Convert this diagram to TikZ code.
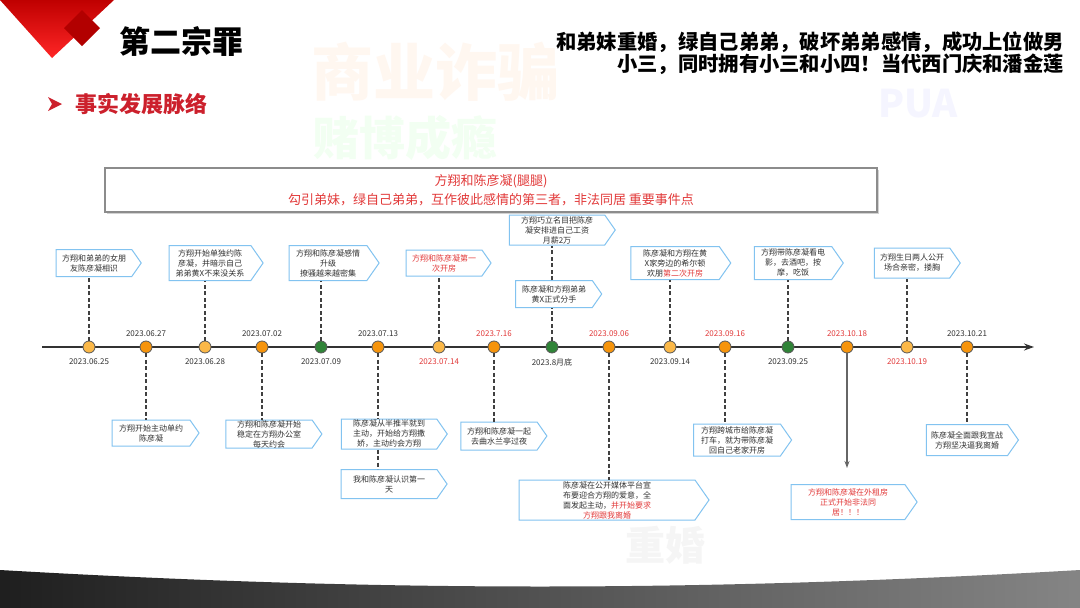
\documentclass[tikz,border=0pt]{standalone}
\usepackage{fontspec}
\setmainfont{Noto Sans CJK SC}
\usetikzlibrary{positioning,shapes.symbols,arrows.meta,shadows}

\definecolor{evred}{RGB}{226,58,58}
\definecolor{titlered}{RGB}{204,32,44}
\definecolor{boxblue}{RGB}{130,195,240}
\definecolor{dotlight}{RGB}{251,184,72}
\definecolor{dotdark}{RGB}{246,148,12}
\definecolor{dotgreen}{RGB}{48,132,56}
\definecolor{txtgray}{RGB}{50,50,50}

\begin{document}
\begin{tikzpicture}[
  x=1pt, y=-1pt,
  evbox/.style={shape=signal, signal to=east, signal pointer angle=110, draw=boxblue, line width=1pt,
    fill=white, inner sep=0pt, align=center, text=txtgray, font=\fontsize{8}{10}\selectfont},
  tdot/.style={circle, draw=black!65, line width=0.8pt, minimum size=12pt, inner sep=0pt},
  datelbl/.style={font=\fontsize{8}{9}\selectfont, text=txtgray, inner sep=0pt},
  link/.style={dash pattern=on 4pt off 2.5pt, line width=1.1pt, black!75},
  wmark/.style={inner sep=0pt, font=\bfseries},
  >=Stealth
]
\useasboundingbox (0,0) rectangle (1080,608);

% Slide decoration
\fill[white] (0,0) rectangle (1080,608);
\node[wmark, text=orange!6, font=\fontsize{62}{62}\selectfont\bfseries] (wm1) at (435,72) {商业诈骗};
\node[wmark, text=green!5, font=\fontsize{46}{46}\selectfont\bfseries] (wm2) at (405,138) {赌博成瘾};
\node[wmark, text=blue!4, font=\fontsize{38}{38}\selectfont\bfseries] (wm3) at (918,104) {PUA};
\node[wmark, text=black!4, font=\fontsize{40}{40}\selectfont\bfseries] (wm4) at (665,545) {重婚};
\shade[top color=red!75!black, bottom color=red!85!white] (0,0) -- (114,0) -- (52,58) -- cycle;
\fill[red!70!black] (82,10) -- (100,28) -- (82,46) -- (64,28) -- cycle;
\shade[left color=black!88, right color=black!48] (0,570) .. controls (380,592) and (700,592) .. (1080,570) -- (1080,608) -- (0,608) -- cycle;

% Headings
\node[font=\fontsize{31}{34}\selectfont\bfseries, inner sep=0pt] (title) at (181,42) {第二宗罪};
\fill[titlered] (48,97) -- (62,104) -- (48,111) -- (52,104) -- cycle;
\node[font=\fontsize{22}{24}\selectfont\bfseries, text=titlered, inner sep=0pt] (sub) at (141,104) {事实发展脉络};
\node[font=\fontsize{20.3}{22}\selectfont\bfseries, align=right, anchor=east, inner sep=0pt] (claim) at (1064,53)
  {和弟妹重婚，绿自己弟弟，破坏弟弟感情，成功上位做男\\小三，同时拥有小三和小四！当代西门庆和潘金莲};

% Banner
\node[draw=black!45, line width=1.2pt, fill=white, drop shadow={opacity=0.35, shadow xshift=1.5pt, shadow yshift=-1.5pt},
  minimum width=772pt, minimum height=44pt, align=center, text=evred, font=\fontsize{13}{19}\selectfont] (banner) at (491,190)
  {方翔和陈彦凝(腿腿)\\勾引弟妹，绿自己弟弟，互作彼此感情的第三者，非法同居 重要事件点};

% Timeline axis
\coordinate (tstart) at (42,347);
\coordinate (tend) at (1034,347);
\draw[line width=1.3pt, black!80, -{Stealth[length=10pt,width=7pt]}] (tstart) -- (tend);

% Time points
\node[tdot, fill=dotlight] (d1) at (89,347) {};
\node[tdot, fill=dotdark] (d2) at (146,347) {};
\node[tdot, fill=dotlight] (d3) at (205,347) {};
\node[tdot, fill=dotdark] (d4) at (262,347) {};
\node[tdot, fill=dotgreen] (d5) at (321,347) {};
\node[tdot, fill=dotdark] (d6) at (378,347) {};
\node[tdot, fill=dotlight] (d7) at (439,347) {};
\node[tdot, fill=dotdark] (d8) at (494,347) {};
\node[tdot, fill=dotgreen] (d9) at (552,347) {};
\node[tdot, fill=dotdark] (d10) at (609,347) {};
\node[tdot, fill=dotlight] (d11) at (670,347) {};
\node[tdot, fill=dotdark] (d12) at (725,347) {};
\node[tdot, fill=dotgreen] (d13) at (788,347) {};
\node[tdot, fill=dotdark] (d14) at (847,347) {};
\node[tdot, fill=dotlight] (d15) at (907,347) {};
\node[tdot, fill=dotdark] (d16) at (967,347) {};

% Dates
\node[datelbl, below=5pt of d1] {2023.06.25};
\node[datelbl, above=4pt of d2] {2023.06.27};
\node[datelbl, below=5pt of d3] {2023.06.28};
\node[datelbl, above=4pt of d4] {2023.07.02};
\node[datelbl, below=5pt of d5] {2023.07.09};
\node[datelbl, above=4pt of d6] {2023.07.13};
\node[datelbl, below=5pt of d7, text=evred] {2023.07.14};
\node[datelbl, above=4pt of d8, text=evred] {2023.7.16};
\node[datelbl, below=5pt of d9] {2023.8月底};
\node[datelbl, above=4pt of d10, text=evred] {2023.09.06};
\node[datelbl, below=5pt of d11] {2023.09.14};
\node[datelbl, above=4pt of d12, text=evred] {2023.09.16};
\node[datelbl, below=5pt of d13] {2023.09.25};
\node[datelbl, above=4pt of d14, text=evred] {2023.10.18};
\node[datelbl, below=5pt of d15, text=evred] {2023.10.19};
\node[datelbl, above=4pt of d16] {2023.10.21};

% Events above the axis
\node[evbox, minimum width=85pt, minimum height=27pt] (b1) at (94,263) {方翔和弟弟的女朋\\友陈彦凝相识};
\node[evbox, minimum width=94pt, minimum height=35pt] (b3) at (210,263) {方翔开始单独约陈\\彦凝，并暗示自己\\弟弟黄X不来没关系};
\node[evbox, minimum width=90pt, minimum height=35pt] (b5) at (328,263) {方翔和陈彦凝感情\\升级\\撩骚越来越密集};
\node[evbox, minimum width=85pt, minimum height=26pt, text=evred] (b7) at (444,263) {方翔和陈彦凝第一\\次开房};
\node[evbox, minimum width=86pt, minimum height=27pt] (b9a) at (554,294) {陈彦凝和方翔弟弟\\黄X正式分手};
\node[evbox, minimum width=106pt, minimum height=30pt] (b9b) at (557,230) {方翔巧立名目把陈彦\\凝安排进自己工资\\月薪2万};
\node[evbox, minimum width=100pt, minimum height=33pt] (b11) at (675,263) {陈彦凝和方翔在黄\\X家旁边的希尔顿\\欢朋\textcolor{evred}{第二次开房}};
\node[evbox, minimum width=89pt, minimum height=33pt] (b13) at (793,263) {方翔带陈彦凝看电\\影，去酒吧，按\\摩，吃饭};
\node[evbox, minimum width=86pt, minimum height=30pt] (b15) at (912,263) {方翔生日两人公开\\场合亲密，搂胸};

% Events below the axis
\node[evbox, minimum width=87pt, minimum height=26pt] (b2) at (151,433) {方翔开始主动单约\\陈彦凝};
\node[evbox, minimum width=96pt, minimum height=28pt] (b4) at (269,434) {方翔和陈彦凝开始\\稳定在方翔办公室\\每天约会};
\node[evbox, minimum width=106pt, minimum height=30pt] (b6a) at (389,434) {陈彦凝从半推半就到\\主动，开始给方翔撒\\娇，主动约会方翔};
\node[evbox, minimum width=106pt, minimum height=29pt] (b6b) at (389,484) {我和陈彦凝认识第一\\天};
\node[evbox, minimum width=86pt, minimum height=28pt] (b8) at (499,436) {方翔和陈彦凝一起\\去曲水兰亭过夜};
\node[evbox, minimum width=190pt, minimum height=40pt] (b10) at (607,500) {陈彦凝在公开媒体平台宣\\布要迎合方翔的爱意，全\\面发起主动，\textcolor{evred}{并开始要求}\\\textcolor{evred}{方翔跟我离婚}};
\node[evbox, minimum width=98pt, minimum height=32pt] (b12) at (737,440) {方翔跨城市给陈彦凝\\打车，就为带陈彦凝\\回自己老家开房};
\node[evbox, minimum width=126pt, minimum height=35pt, text=evred] (b14) at (848,502) {方翔和陈彦凝在外租房\\正式开始非法同\\居！！！};
\node[evbox, minimum width=92pt, minimum height=31pt] (b16) at (967,440) {陈彦凝全面跟我宣战\\方翔坚决逼我离婚};

% Links to events
\draw[link] (d1.north) -- (d1 |- b1.south);
\draw[link] (d3.north) -- (d3 |- b3.south);
\draw[link] (d5.north) -- (d5 |- b5.south);
\draw[link] (d7.north) -- (d7 |- b7.south);
\draw[link] (d9.north) -- (d9 |- b9a.south);
\draw[link] (b9a.north -| d9) -- (d9 |- b9b.south);
\draw[link] (d11.north) -- (d11 |- b11.south);
\draw[link] (d13.north) -- (d13 |- b13.south);
\draw[link] (d15.north) -- (d15 |- b15.south);
\draw[link] (d2.south) -- (d2 |- b2.north);
\draw[link] (d4.south) -- (d4 |- b4.north);
\draw[link] (d6.south) -- (d6 |- b6a.north);
\draw[link] (b6a.south -| d6) -- (d6 |- b6b.north);
\draw[link] (d8.south) -- (d8 |- b8.north);
\draw[link] (d10.south) -- (d10 |- b10.north);
\draw[link] (d12.south) -- (d12 |- b12.north);
\draw[link] (d16.south) -- (d16 |- b16.north);

% Cohabitation arrow
\coordinate (a14) at (847,468);
\draw[black!60, line width=1.1pt, -{Stealth[length=7pt,width=5pt]}] (d14.south) -- (a14);

\end{tikzpicture}
\end{document}
